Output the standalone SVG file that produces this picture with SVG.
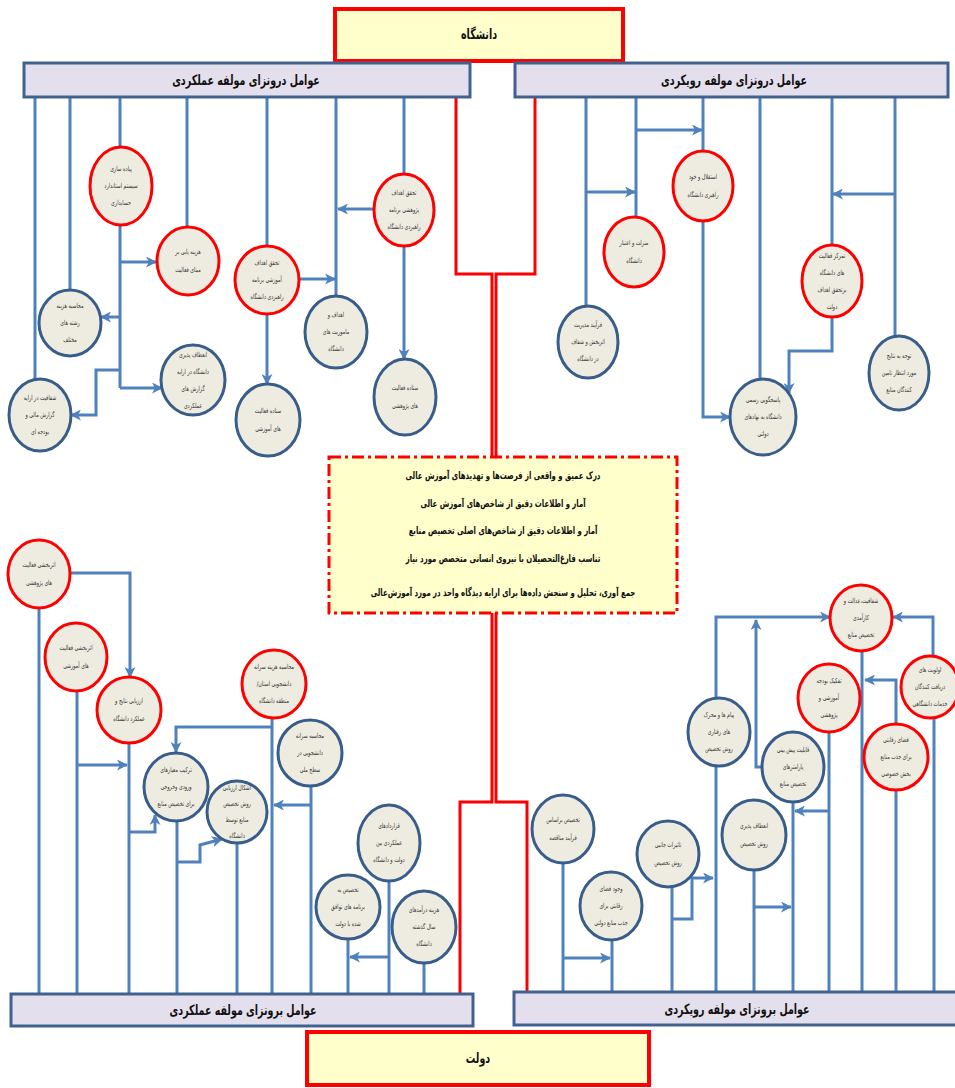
<svg xmlns="http://www.w3.org/2000/svg" width="955" height="1088" viewBox="0 0 955 1088">
<style>
.cr{fill:#EEECE1;stroke:#FF0000;stroke-width:3}
.cb{fill:#EEECE1;stroke:#385D8A;stroke-width:3}
.t{font-family:"DejaVu Sans",sans-serif;font-size:7px;fill:#333;text-anchor:middle;direction:rtl}
.ln{fill:none;stroke:#4F81BD;stroke-width:3}
.ar{marker-end:url(#ah)}
.rd{fill:none;stroke:#FF0000;stroke-width:3}
.hd{fill:#E4DFEC;stroke:#41628F;stroke-width:3}
.ht{font-family:"DejaVu Sans",sans-serif;font-weight:bold;font-size:14px;fill:#111;text-anchor:middle;direction:rtl}
.bx{fill:#FFFFCC;stroke:#FF0000;stroke-width:4}
.ct{font-family:"DejaVu Sans",sans-serif;font-weight:bold;font-size:10.5px;fill:#111;text-anchor:middle;direction:rtl}
</style>
<defs>
<marker id="ah" markerWidth="11" markerHeight="11" refX="10" refY="5.5" orient="auto" markerUnits="userSpaceOnUse"><path d="M0,0 L11,5.5 L0,11 L3,5.5 z" fill="#4F81BD"/></marker>
</defs>
<rect width="955" height="1088" fill="#FFFFFF"/>

<g id="connectors">
<path class="rd" d="M456,97 V274 H492 V457"/>
<path class="rd" d="M535,97 V274 H496 V457"/>
<path class="rd" d="M492,613 V802 H460 V993"/>
<path class="rd" d="M496,613 V802 H527 V991"/>
<path class="ln" d="M35,97 V380"/>
<path class="ln" d="M70,97 V291"/>
<path class="ln" d="M120,97 V148"/>
<path class="ln" d="M187,97 V228"/>
<path class="ln" d="M267,97 V247"/>
<path class="ln" d="M336,97 V297"/>
<path class="ln" d="M404,97 V175"/>
<path class="ln" d="M120,224 V388"/>
<path class="ln ar" d="M120,262 H156"/>
<path class="ln ar" d="M120,317 H101"/>
<path class="ln ar" d="M120,388 H162"/>
<path class="ln ar" d="M120,370 H96 V415 H71"/>
<path class="ln ar" d="M374,209 H338"/>
<path class="ln ar" d="M299,279 H335"/>
<path class="ln ar" d="M267,314 V384"/>
<path class="ln ar" d="M404,246 V359"/>
<path class="ln" d="M586,97 V307"/>
<path class="ln" d="M636,97 V218"/>
<path class="ln" d="M703,97 V152"/>
<path class="ln" d="M760,97 V380"/>
<path class="ln" d="M832,97 V246"/>
<path class="ln" d="M895,97 V337"/>
<path class="ln ar" d="M586,192 H635"/>
<path class="ln ar" d="M636,130 H702"/>
<path class="ln ar" d="M703,220 V417 H730"/>
<path class="ln ar" d="M895,194 H833"/>
<path class="ln ar" d="M832,316 V351 H789 V393"/>
<path class="ln ar" d="M70,573 H130 V677"/>
<path class="ln" d="M39,607 V993"/>
<path class="ln" d="M77,690 V993"/>
<path class="ln ar" d="M77,765 H127"/>
<path class="ln" d="M129,742 V993"/>
<path class="ln ar" d="M129,832 H155 V815"/>
<path class="ln" d="M272,717 V993"/>
<path class="ln ar" d="M272,727 H176 V752"/>
<path class="ln" d="M177,820 V993"/>
<path class="ln ar" d="M177,862 H200 V845 L222,839"/>
<path class="ln" d="M237,842 V993"/>
<path class="ln" d="M311,785 V993"/>
<path class="ln ar" d="M311,805 H274"/>
<path class="ln" d="M389,880 V993"/>
<path class="ln ar" d="M389,957 H350"/>
<path class="ln" d="M348,938 V993"/>
<path class="ln" d="M424,962 V993"/>
<path class="ln" d="M563,862 V991"/>
<path class="ln ar" d="M563,958 H610"/>
<path class="ln" d="M612,939 V991"/>
<path class="ln" d="M672,886 V991"/>
<path class="ln ar" d="M672,919 H692 V878 H713"/>
<path class="ln" d="M716,765 V991"/>
<path class="ln ar" d="M716,699 V617 H830"/>
<path class="ln ar" d="M762,767 H756 V620"/>
<path class="ln" d="M754,869 V991"/>
<path class="ln ar" d="M754,907 H791"/>
<path class="ln" d="M793,801 V991"/>
<path class="ln" d="M829,731 V991"/>
<path class="ln ar" d="M829,811 H795"/>
<path class="ln" d="M862,650 V991"/>
<path class="ln ar" d="M896,725 V680 H865"/>
<path class="ln" d="M896,789 V991"/>
<path class="ln ar" d="M933,657 V617 H893"/>
<path class="ln" d="M934,717 V991"/>
</g>

<g id="daneshgah"><rect class="bx" x="335" y="9" width="288" height="52"/><text class="ht" transform="translate(479 0) scale(0.68 1)" x="0" y="39">دانشگاه</text></g>
<g id="dowlat"><rect class="bx" x="307" y="1032" width="342" height="53"/><text class="ht" transform="translate(478 0) scale(0.68 1)" x="0" y="1063">دولت</text></g>

<g id="h-left"><rect class="hd" x="24" y="63" width="446" height="34"/><text class="ht" transform="translate(246 0) scale(0.68 1)" x="0" y="85">عوامل درونزای مولفه عملکردی</text></g>
<g id="h-right"><rect class="hd" x="515" y="63" width="433" height="34"/><text class="ht" transform="translate(734 0) scale(0.68 1)" x="0" y="85">عوامل درونزای مولفه رویکردی</text></g>
<g id="f-left"><rect class="hd" x="11" y="994" width="462" height="32"/><text class="ht" transform="translate(243 0) scale(0.68 1)" x="0" y="1015">عوامل برونزای مولفه عملکردی</text></g>
<g id="f-right"><rect class="hd" x="514" y="992" width="444" height="33"/><text class="ht" transform="translate(737 0) scale(0.68 1)" x="0" y="1014">عوامل برونزای مولفه رویکردی</text></g>

<g id="center">
<rect x="329" y="457" width="348" height="156" fill="#FFFFCC" stroke="#FF0000" stroke-width="3" stroke-dasharray="12,4,3,4"/>
<g transform="translate(503 0) scale(0.66 1)">
<text class="ct" x="0" y="479">درک عمیق و واقعی از فرصت‌ها و تهدیدهای آموزش عالی</text>
<text class="ct" x="0" y="507">آمار و اطلاعات دقیق  از شاخص‌های آموزش عالی</text>
<text class="ct" x="0" y="534">آمار و اطلاعات دقیق  از شاخص‌های اصلی تخصیص منابع</text>
<text class="ct" x="0" y="562">تناسب فارغ‌التحصیلان با نیروی انسانی متخصص مورد نیاز</text>
<text class="ct" x="0" y="596">جمع آوری، تحلیل و سنجش داده‌ها برای ارایه دیدگاه واحد در مورد آموزش‌عالی</text>
</g>
</g>

<g id="n1"><ellipse class="cr" cx="121" cy="186" rx="31" ry="39"/><text class="t" transform="translate(121 0) scale(0.68 1)"><tspan x="0" y="171">پیاده سازی</tspan><tspan x="0" y="188">سیستم استاندارد</tspan><tspan x="0" y="205">حسابداری</tspan></text></g>
<g id="n2"><ellipse class="cr" cx="188" cy="261" rx="31" ry="34"/><text class="t" transform="translate(188 0) scale(0.68 1)"><tspan x="0" y="254">هزینه یابی بر</tspan><tspan x="0" y="272">مبنای فعالیت</tspan></text></g>
<g id="n3"><ellipse class="cb" cx="70" cy="323" rx="31" ry="33"/><text class="t" transform="translate(70 0) scale(0.68 1)"><tspan x="0" y="308">محاسبه هزینه</tspan><tspan x="0" y="325">رشته های</tspan><tspan x="0" y="342">مختلف</tspan></text></g>
<g id="n4"><ellipse class="cb" cx="193" cy="380" rx="32" ry="35"/><text class="t" transform="translate(193 0) scale(0.68 1)"><tspan x="0" y="357">انعطاف پذیری</tspan><tspan x="0" y="374">دانشگاه در ارایه</tspan><tspan x="0" y="391">گزارش های</tspan><tspan x="0" y="408">عملکردی</tspan></text></g>
<g id="n5"><ellipse class="cb" cx="40" cy="415" rx="31" ry="36"/><text class="t" transform="translate(40 0) scale(0.68 1)"><tspan x="0" y="400">شفافیت در ارایه</tspan><tspan x="0" y="417">گزارش مالی و</tspan><tspan x="0" y="434">بودجه ای</tspan></text></g>
<g id="n6"><ellipse class="cr" cx="404" cy="210" rx="30" ry="36"/><text class="t" transform="translate(404 0) scale(0.68 1)"><tspan x="0" y="195">تحقق اهداف</tspan><tspan x="0" y="212">پژوهشی برنامه</tspan><tspan x="0" y="229">راهبردی دانشگاه</tspan></text></g>
<g id="n7"><ellipse class="cr" cx="267" cy="280" rx="32" ry="34"/><text class="t" transform="translate(267 0) scale(0.68 1)"><tspan x="0" y="265">تحقق اهداف</tspan><tspan x="0" y="282">آموزشی برنامه</tspan><tspan x="0" y="299">راهبردی دانشگاه</tspan></text></g>
<g id="n8"><ellipse class="cb" cx="405" cy="397" rx="31" ry="38"/><text class="t" transform="translate(405 0) scale(0.68 1)"><tspan x="0" y="390">ستاده فعالیت</tspan><tspan x="0" y="408">های پژوهشی</tspan></text></g>
<g id="n9"><ellipse class="cb" cx="336" cy="332" rx="31" ry="36"/><text class="t" transform="translate(336 0) scale(0.68 1)"><tspan x="0" y="317">اهداف و</tspan><tspan x="0" y="334">ماموریت های</tspan><tspan x="0" y="351">دانشگاه</tspan></text></g>
<g id="n10"><ellipse class="cb" cx="268" cy="420" rx="32" ry="36"/><text class="t" transform="translate(268 0) scale(0.68 1)"><tspan x="0" y="413">ستاده فعالیت</tspan><tspan x="0" y="431">های آموزشی</tspan></text></g>
<g id="n11"><ellipse class="cr" cx="703" cy="186" rx="30" ry="35"/><text class="t" transform="translate(703 0) scale(0.68 1)"><tspan x="0" y="179">استقلال و خود</tspan><tspan x="0" y="197">راهبری دانشگاه</tspan></text></g>
<g id="n12"><ellipse class="cr" cx="634" cy="252" rx="30" ry="35"/><text class="t" transform="translate(634 0) scale(0.68 1)"><tspan x="0" y="245">منزلت و اعتبار</tspan><tspan x="0" y="263">دانشگاه</tspan></text></g>
<g id="n13"><ellipse class="cb" cx="588" cy="342" rx="30" ry="36"/><text class="t" transform="translate(588 0) scale(0.68 1)"><tspan x="0" y="327">فرآیند مدیریت</tspan><tspan x="0" y="344">اثربخش و شفاف</tspan><tspan x="0" y="361">در دانشگاه</tspan></text></g>
<g id="n14"><ellipse class="cb" cx="763" cy="417" rx="33" ry="38"/><text class="t" transform="translate(763 0) scale(0.68 1)"><tspan x="0" y="402">پاسخگویی رسمی</tspan><tspan x="0" y="419">دانشگاه به نهادهای</tspan><tspan x="0" y="436">دولتی</tspan></text></g>
<g id="n15"><ellipse class="cr" cx="832" cy="281" rx="30" ry="36"/><text class="t" transform="translate(832 0) scale(0.68 1)"><tspan x="0" y="258">تمرکز فعالیت</tspan><tspan x="0" y="275">های دانشگاه</tspan><tspan x="0" y="292">برتحقق اهداف</tspan><tspan x="0" y="309">دولت</tspan></text></g>
<g id="n16"><ellipse class="cb" cx="899" cy="373" rx="30" ry="37"/><text class="t" transform="translate(899 0) scale(0.68 1)"><tspan x="0" y="358">توجه به نتایج</tspan><tspan x="0" y="375">مورد انتظار تامین</tspan><tspan x="0" y="392">کنندگان منابع</tspan></text></g>

<g id="b1"><ellipse class="cr" cx="39" cy="574" rx="31" ry="34"/><text class="t" transform="translate(39 0) scale(0.68 1)"><tspan x="0" y="567">اثربخشی فعالیت</tspan><tspan x="0" y="585">های پژوهشی</tspan></text></g>
<g id="b2"><ellipse class="cr" cx="76" cy="657" rx="31" ry="34"/><text class="t" transform="translate(76 0) scale(0.68 1)"><tspan x="0" y="650">اثربخشی فعالیت</tspan><tspan x="0" y="668">های آموزشی</tspan></text></g>
<g id="b3"><ellipse class="cr" cx="129" cy="710" rx="32" ry="33"/><text class="t" transform="translate(129 0) scale(0.68 1)"><tspan x="0" y="703">ارزیابی نتایج و</tspan><tspan x="0" y="721">عملکرد دانشگاه</tspan></text></g>
<g id="b4"><ellipse class="cb" cx="176" cy="787" rx="32" ry="34"/><text class="t" transform="translate(176 0) scale(0.68 1)"><tspan x="0" y="772">ترکیب معیارهای</tspan><tspan x="0" y="789">ورودی وخروجی</tspan><tspan x="0" y="806">برای تخصیص منابع</tspan></text></g>
<g id="b5"><ellipse class="cb" cx="237" cy="812" rx="30" ry="31"/><text class="t" transform="translate(237 0) scale(0.68 1)"><tspan x="0" y="790">اشکال ارزیابی</tspan><tspan x="0" y="806">روش تخصیص</tspan><tspan x="0" y="822">منابع توسط</tspan><tspan x="0" y="838">دانشگاه</tspan></text></g>
<g id="b6"><ellipse class="cr" cx="274" cy="684" rx="32" ry="34"/><text class="t" transform="translate(274 0) scale(0.68 1)"><tspan x="0" y="669">محاسبه هزینه سرانه</tspan><tspan x="0" y="686">دانشجویی استان/</tspan><tspan x="0" y="703">منطقه دانشگاه</tspan></text></g>
<g id="b7"><ellipse class="cb" cx="310" cy="753" rx="32" ry="33"/><text class="t" transform="translate(310 0) scale(0.68 1)"><tspan x="0" y="738">محاسبه سرانه</tspan><tspan x="0" y="755">دانشجویی در</tspan><tspan x="0" y="772">سطح ملی</tspan></text></g>
<g id="b8"><ellipse class="cb" cx="389" cy="843" rx="31" ry="38"/><text class="t" transform="translate(389 0) scale(0.68 1)"><tspan x="0" y="828">قراردادهای</tspan><tspan x="0" y="845">عملکردی بین</tspan><tspan x="0" y="862">دولت و دانشگاه</tspan></text></g>
<g id="b9"><ellipse class="cb" cx="348" cy="907" rx="32" ry="32"/><text class="t" transform="translate(348 0) scale(0.68 1)"><tspan x="0" y="892">تخصیص به</tspan><tspan x="0" y="909">برنامه های توافق</tspan><tspan x="0" y="926">شده با دولت</tspan></text></g>
<g id="b10"><ellipse class="cb" cx="424" cy="927" rx="32" ry="36"/><text class="t" transform="translate(424 0) scale(0.68 1)"><tspan x="0" y="912">هزینه درآمدهای</tspan><tspan x="0" y="929">سال گذشته</tspan><tspan x="0" y="946">دانشگاه</tspan></text></g>

<g id="r1"><ellipse class="cb" cx="563" cy="829" rx="31" ry="34"/><text class="t" transform="translate(563 0) scale(0.68 1)"><tspan x="0" y="822">تخصیص براساس</tspan><tspan x="0" y="840">فرآیند مناقصه</tspan></text></g>
<g id="r2"><ellipse class="cb" cx="611" cy="906" rx="31" ry="34"/><text class="t" transform="translate(611 0) scale(0.68 1)"><tspan x="0" y="891">وجود فضای</tspan><tspan x="0" y="908">رقابتی برای</tspan><tspan x="0" y="925">جذب منابع دولتی</tspan></text></g>
<g id="r3"><ellipse class="cb" cx="668" cy="854" rx="31" ry="33"/><text class="t" transform="translate(668 0) scale(0.68 1)"><tspan x="0" y="847">تاثیرات جانبی</tspan><tspan x="0" y="865">روش تخصیص</tspan></text></g>
<g id="r4"><ellipse class="cb" cx="719" cy="732" rx="31" ry="34"/><text class="t" transform="translate(719 0) scale(0.68 1)"><tspan x="0" y="717">پیام ها و محرک</tspan><tspan x="0" y="734">های رفتاری</tspan><tspan x="0" y="751">روش تخصیص</tspan></text></g>
<g id="r5"><ellipse class="cb" cx="754" cy="835" rx="32" ry="35"/><text class="t" transform="translate(754 0) scale(0.68 1)"><tspan x="0" y="828">انعطاف پذیری</tspan><tspan x="0" y="846">روش تخصیص</tspan></text></g>
<g id="r6"><ellipse class="cb" cx="793" cy="767" rx="31" ry="35"/><text class="t" transform="translate(793 0) scale(0.68 1)"><tspan x="0" y="752">قابلیت پیش بینی</tspan><tspan x="0" y="769">پارامترهای</tspan><tspan x="0" y="786">تخصیص منابع</tspan></text></g>
<g id="r7"><ellipse class="cr" cx="829" cy="698" rx="31" ry="34"/><text class="t" transform="translate(829 0) scale(0.68 1)"><tspan x="0" y="683">تفکیک بودجه</tspan><tspan x="0" y="700">آموزشی و</tspan><tspan x="0" y="717">پژوهشی</tspan></text></g>
<g id="r8"><ellipse class="cr" cx="861" cy="618" rx="31" ry="33"/><text class="t" transform="translate(861 0) scale(0.68 1)"><tspan x="0" y="603">شفافیت،عدالت و</tspan><tspan x="0" y="620">کارآمدی</tspan><tspan x="0" y="637">تخصیص منابع</tspan></text></g>
<g id="r9"><ellipse class="cr" cx="930" cy="687" rx="29" ry="31"/><text class="t" transform="translate(930 0) scale(0.68 1)"><tspan x="0" y="672">اولویت های</tspan><tspan x="0" y="689">دریافت کنندگان</tspan><tspan x="0" y="706">خدمات دانشگاهی</tspan></text></g>
<g id="r10"><ellipse class="cr" cx="896" cy="757" rx="32" ry="33"/><text class="t" transform="translate(896 0) scale(0.68 1)"><tspan x="0" y="742">فضای رقابتی</tspan><tspan x="0" y="759">برای جذب منابع</tspan><tspan x="0" y="776">بخش خصوصی</tspan></text></g>
</svg>
